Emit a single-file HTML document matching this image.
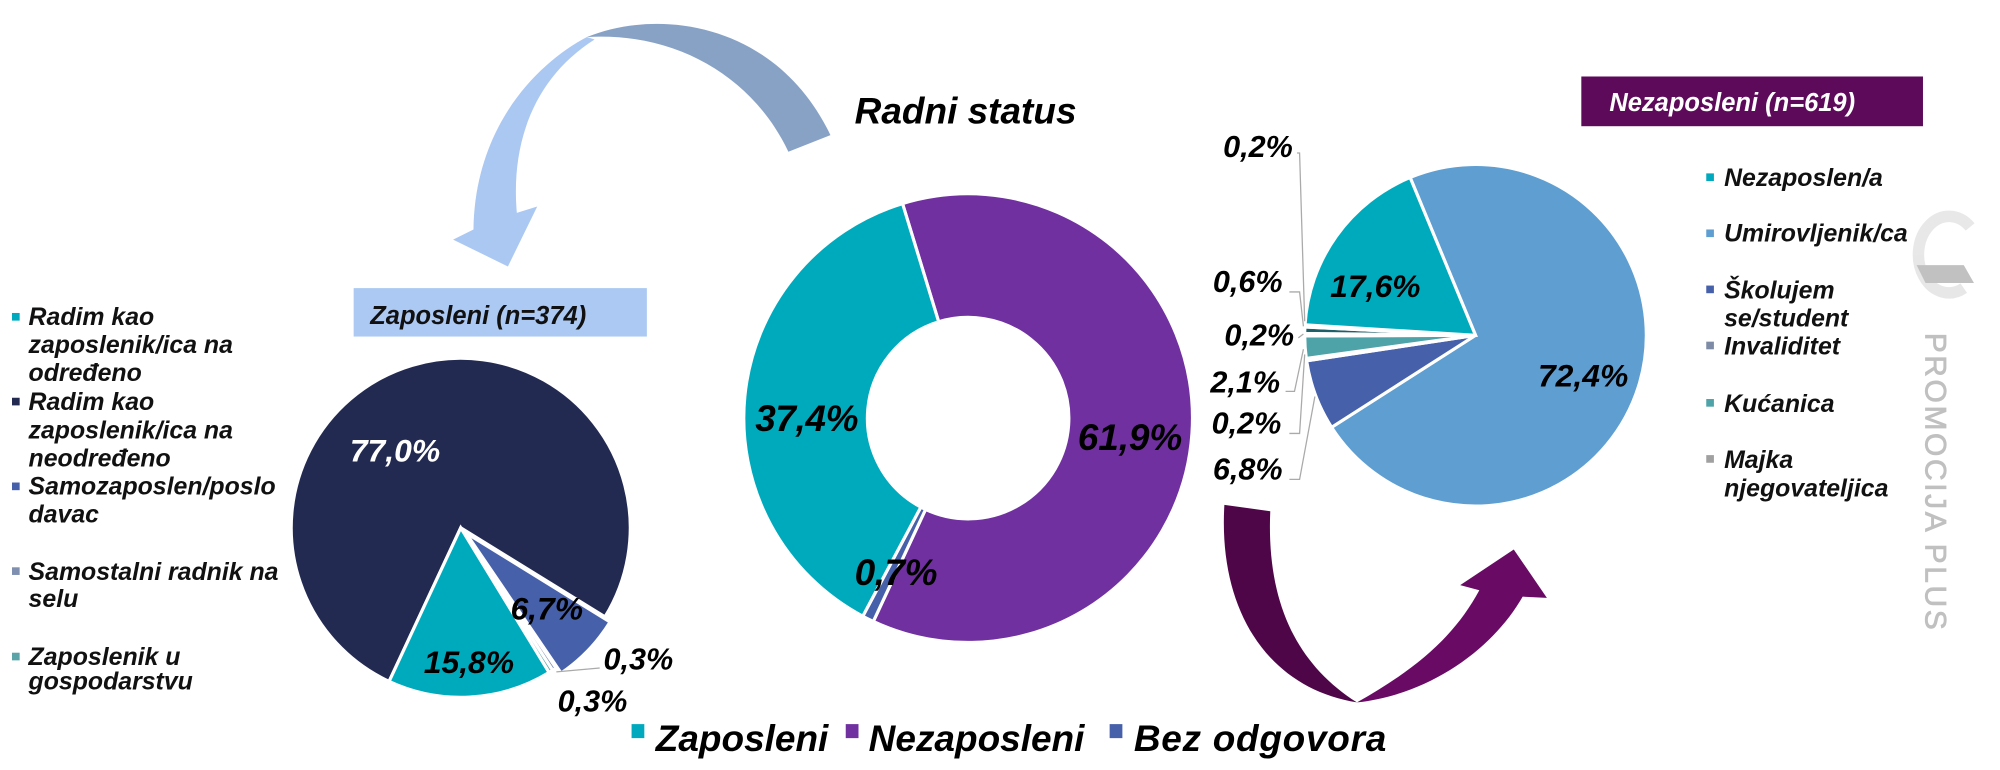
<!DOCTYPE html>
<html><head><meta charset="utf-8"><style>
html,body{margin:0;padding:0;background:#fff;width:2000px;height:770px;overflow:hidden}
svg text{font-family:"Liberation Sans",sans-serif;font-weight:bold;font-style:italic}
svg text.wm{font-style:normal;font-weight:normal}
</style></head><body>
<svg id="s" width="2000" height="770" viewBox="0 0 1568 604" xmlns="http://www.w3.org/2000/svg">
<path d="M460 29 C520 5 610 20 651 106 L618 119 C590 60 530 25 460 29 Z" fill="#88a2c6"/>
<path d="M460 29 C420 50 372 100 371 180 L355 188 L398 209 L421 162 L405 167 C400 110 420 60 466 31 Z" fill="#abc8f2"/>
<path d="M960 396 L996 401 C993 470 1015 520 1064 551 C995 540 955 480 960 396 Z" fill="#4f0648"/>
<path d="M1064 551 C1120 545 1170 510 1194 468 L1213 469 L1187 431 L1145 459 L1160 463 C1140 500 1110 525 1064 551 Z" fill="#690a64"/>
<g id="pies"></g>
<text x="670" y="97" font-size="29">Radni status</text>
<rect x="277" y="226" width="230" height="38" fill="#abc9f3"/>
<text x="290" y="254" font-size="20" fill="#111">Zaposleni (n=374)</text>
<rect x="1240" y="60" width="268" height="39" fill="#5e0a5b"/>
<text x="1262" y="87" font-size="20" fill="#fff">Nezaposleni (n=619)</text>
<text x="592" y="338" font-size="29" textLength="81">37,4%</text>
<text x="845" y="353" font-size="29" textLength="82">61,9%</text>
<text x="670" y="459" font-size="29" textLength="65">0,7%</text>
<text x="274" y="362" font-size="25" fill="#fff">77,0%</text>
<text x="332" y="528" font-size="25">15,8%</text>
<text x="400" y="486" font-size="25">6,7%</text>
<text x="473" y="525" font-size="24">0,3%</text>
<path d="M436 527 L470 524" stroke="#aaa" fill="none"/>
<text x="437" y="558" font-size="24">0,3%</text>
<text x="1043" y="233" font-size="25">17,6%</text>
<text x="1206" y="303" font-size="25">72,4%</text>
<g font-size="24">
<text x="959" y="123">0,2%</text>
<text x="951" y="229">0,6%</text>
<text x="960" y="271">0,2%</text>
<text x="949" y="308">2,1%</text>
<text x="950" y="340">0,2%</text>
<text x="951" y="376">6,8%</text>
</g>
<g stroke="#aaa" fill="none" stroke-width="1">
<path d="M1017 120 L1019 120 L1023 252"/>
<path d="M1011 229 L1019 229 L1022 256"/>
<path d="M1018 265 L1022 262"/>
<path d="M1008 307 L1015 307 L1022 274"/>
<path d="M1011 340 L1019 340 L1023 278"/>
<path d="M1011 376 L1019 376 L1031 311"/>
</g>
<g font-size="19.5" fill="#111">
<rect x="9" y="245.5" width="6" height="6" fill="#00a9bd"/>
<text x="22" y="255">Radim kao</text><text x="22" y="277">zaposlenik/ica na</text><text x="22" y="299">određeno</text>
<rect x="9" y="312" width="6" height="6" fill="#232a52"/>
<text x="22" y="321.5">Radim kao</text><text x="22" y="344">zaposlenik/ica na</text><text x="22" y="366">neodređeno</text>
<rect x="9" y="378.5" width="6" height="6" fill="#4660aa"/>
<text x="22" y="388">Samozaposlen/poslo</text><text x="22" y="410">davac</text>
<rect x="9" y="445" width="6" height="6" fill="#7f8fb0"/>
<text x="22" y="455">Samostalni radnik na</text><text x="22" y="476">selu</text>
<rect x="9" y="512" width="6" height="6" fill="#5aa3a6"/>
<text x="22" y="521.5">Zaposlenik u</text><text x="22" y="541">gospodarstvu</text>
</g>
<g font-size="19.5" fill="#111">
<rect x="1338" y="136" width="6" height="6" fill="#00a9bd"/><text x="1352" y="146">Nezaposlen/a</text>
<rect x="1338" y="180" width="6" height="6" fill="#5f9ed1"/><text x="1352" y="189.5">Umirovljenik/ca</text>
<rect x="1338" y="224" width="6" height="6" fill="#4660aa"/><text x="1352" y="234">Školujem</text><text x="1352" y="256">se/student</text>
<rect x="1338" y="268" width="6" height="6" fill="#7d8ba6"/><text x="1352" y="278">Invaliditet</text>
<rect x="1338" y="313" width="6" height="6" fill="#4da3a8"/><text x="1352" y="323">Kućanica</text>
<rect x="1338" y="357" width="6" height="6" fill="#a0a0a0"/><text x="1352" y="367">Majka</text><text x="1352" y="389.5">njegovateljica</text>
</g>
<g opacity="0.6">
<path d="M1545 178 A24 30 0 1 0 1540 226" fill="none" stroke="#d8d8d8" stroke-width="9"/>
<path d="M1503 208 L1540 208 L1548 222 L1510 222 Z" fill="#999"/>
</g>
<text class="wm" transform="translate(1510,261) rotate(90)" font-size="23.5" fill="#c0c0c0" stroke="#c0c0c0" stroke-width="0.6" textLength="233">PROMOCIJA PLUS</text>
<g font-size="29">
<rect x="495" y="568" width="10" height="11" fill="#00a9bd"/><text x="514" y="589">Zaposleni</text>
<rect x="663" y="568" width="10" height="11" fill="#7030a0"/><text x="681" y="589">Nezaposleni</text>
<rect x="870" y="568" width="10" height="11" fill="#4660aa"/><text x="889" y="589" textLength="198">Bez odgovora</text>
</g>
</svg>
<script>
function pt(cx,cy,rx,ry,a){var r=a*Math.PI/180;return [cx+rx*Math.sin(r),cy-ry*Math.cos(r)];}
function slice(cx,cy,rx,ry,a0,a1,col,irx,iry){
 var p0=pt(cx,cy,rx,ry,a0),p1=pt(cx,cy,rx,ry,a1),l=(a1-a0)>180?1:0,d;
 if(irx){var q1=pt(cx,cy,irx,iry,a1),q0=pt(cx,cy,irx,iry,a0);
  d="M"+p0+"A"+rx+","+ry+" 0 "+l+" 1 "+p1+"L"+q1+"A"+irx+","+iry+" 0 "+l+" 0 "+q0+"Z";}
 else d="M"+cx+","+cy+"L"+p0+"A"+rx+","+ry+" 0 "+l+" 1 "+p1+"Z";
 return '<path d="'+d+'" fill="'+col+'" stroke="#fff" stroke-width="2.5"/>';}
var h="";
h+=slice(759,328,176,176,-17,205,"#7030a0",79,79);
h+=slice(759,328,176,176,205,208,"#4660aa",79,79);
h+=slice(759,328,176,176,208,343,"#00aabd",79,79);
h+=slice(361,414,133,133,205,481.7,"#232a52");
h+=slice(365,418,133,133,121.7,145.8,"#4660aa");
h+=slice(361,414,133,133,145.8,147.2,"#7f8fb0");
h+=slice(361,414,133,133,147.2,148.6,"#5aa3a6");
h+=slice(361,414,133,133,148.6,205,"#00aabd");
h+=slice(1157,263,134,134,337.5,597.4,"#5f9ed1");
h+=slice(1157,263,134,134,237.4,261.4,"#4660aa");
h+=slice(1157,263,134,134,261.4,262.2,"#7d8ba6");
h+=slice(1157,263,134,134,262.2,269.8,"#4da3a8");
h+=slice(1157,263,134,134,269.8,270.6,"#a0a0a0");
h+=slice(1157,263,134,134,270.6,272.8,"#1f5f6a");
h+=slice(1157,263,134,134,272.8,273.5,"#7fd0dc");
h+=slice(1157,263,134,134,273.5,337.5,"#00aabd");
document.getElementById("pies").innerHTML=h;
</script>
</body></html>
